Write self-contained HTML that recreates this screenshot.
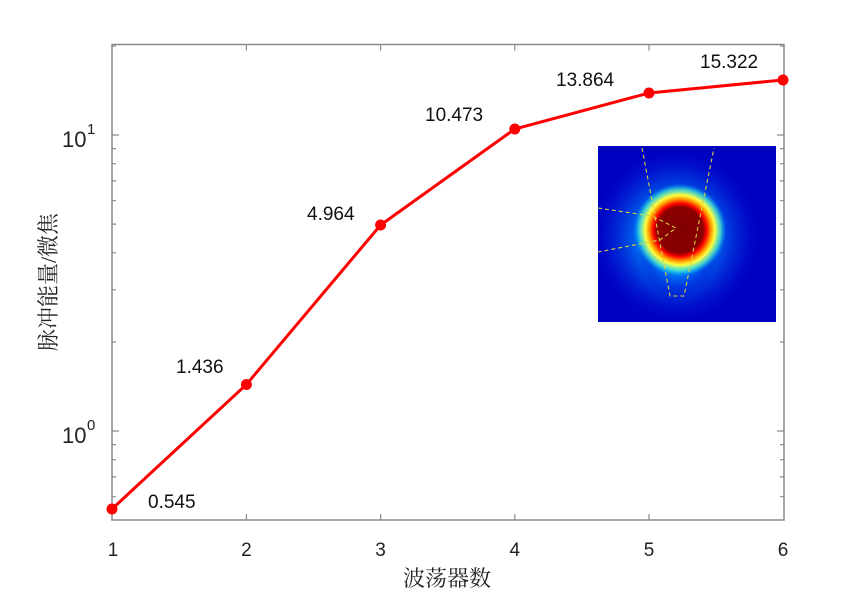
<!DOCTYPE html>
<html><head><meta charset="utf-8"><style>
html,body{margin:0;padding:0;background:#fff;}
svg{display:block;}
</style></head><body>
<svg width="866" height="595" viewBox="0 0 866 595" xmlns="http://www.w3.org/2000/svg">
<defs>
<clipPath id="cp"><rect x="598" y="146" width="178" height="176"/></clipPath>
<radialGradient id="g1" cx="0.5" cy="0.5" r="0.5">
<stop offset="0" stop-color="#20e0ff" stop-opacity="1"/>
<stop offset="0.4" stop-color="#0090ff" stop-opacity="0.85"/>
<stop offset="0.75" stop-color="#0030e0" stop-opacity="0.5"/>
<stop offset="1" stop-color="#0000c8" stop-opacity="0"/>
</radialGradient>
<radialGradient id="g2" cx="0.5" cy="0.5" r="0.5">
<stop offset="0" stop-color="#800000"/>
<stop offset="0.5" stop-color="#8a0000"/>
<stop offset="0.58" stop-color="#ff0000"/>
<stop offset="0.68" stop-color="#ffa000"/>
<stop offset="0.76" stop-color="#ffff40"/>
<stop offset="0.88" stop-color="#60ffc0" stop-opacity="0.7"/>
<stop offset="1" stop-color="#00e0ff" stop-opacity="0"/>
</radialGradient>
</defs>
<g clip-path="url(#cp)">
<rect x="598" y="146" width="178" height="176" fill="#0000c0"/>
<ellipse cx="676" cy="236" rx="88" ry="90" fill="url(#g1)"/>
<ellipse cx="678" cy="252" rx="40" ry="46" fill="url(#g1)"/>
<ellipse cx="680" cy="230" rx="46" ry="46" fill="url(#g2)"/>
<g stroke="#d8d040" stroke-width="1.1" stroke-dasharray="4,3" fill="none">
<path d="M642,148 L670,296 L684,296 L714,148"/>
<path d="M598,208 L652,216 L676,228 L660,240 L598,252"/>
</g>
</g>
<rect x="112" y="44.5" width="672" height="475.5" fill="none" stroke="#8a8a8a" stroke-width="1.5"/>
<g stroke="#8a8a8a" stroke-width="1.2">
<path d="M246.4,520v-6M380.6,520v-6M514.8,520v-6M649,520v-6M246.4,44.5v6M380.6,44.5v6M514.8,44.5v6M649,44.5v6"/>
<path d="M112,431h7M112,135h7M784,431h-7M784,135h-7"/>
<path d="M112,496.7h4M112,476.9h4M112,459.7h4M112,444.6h4M112,342h4M112,289.8h4M112,252.8h4M112,224.1h4M112,200.7h4M112,180.9h4M112,163.7h4M112,148.6h4M112,46h4
M784,496.7h-4M784,476.9h-4M784,459.7h-4M784,444.6h-4M784,342h-4M784,289.8h-4M784,252.8h-4M784,224.1h-4M784,200.7h-4M784,180.9h-4M784,163.7h-4M784,148.6h-4M784,46h-4"/>
</g>
<g font-family="Liberation Sans, Arial, sans-serif" font-size="19" fill="#222" text-anchor="middle">
<text x="113" y="556">1</text><text x="246.4" y="556">2</text><text x="380.6" y="556">3</text>
<text x="514.8" y="556">4</text><text x="649" y="556">5</text><text x="783" y="556">6</text>
</g>
<g font-family="Liberation Sans, Arial, sans-serif" fill="#222">
<text x="62" y="443" font-size="22">10</text><text x="87" y="430" font-size="15">0</text>
<text x="62" y="147" font-size="22">10</text><text x="87" y="134" font-size="15">1</text>
</g>
<g font-family="Liberation Sans, Arial, sans-serif" font-size="19" fill="#111">
<text x="148" y="508">0.545</text>
<text x="176" y="373">1.436</text>
<text x="307" y="220">4.964</text>
<text x="425" y="121">10.473</text>
<text x="556" y="86">13.864</text>
<text x="700" y="68">15.322</text>
</g>
<polyline points="112,509 246.4,384.5 380.6,225 514.8,129 649,93 783,80" fill="none" stroke="#ff0000" stroke-width="3"/>
<g fill="#ff0000">
<circle cx="112" cy="509" r="5.5"/><circle cx="246.4" cy="384.5" r="5.5"/><circle cx="380.6" cy="225" r="5.5"/>
<circle cx="514.8" cy="129" r="5.5"/><circle cx="649" cy="93" r="5.5"/><circle cx="783" cy="80" r="5.5"/>
</g>
<text x="447" y="586" text-anchor="middle" font-family="Liberation Serif, 'Noto Serif CJK SC', serif" font-size="22" fill="#222">波荡器数</text>
<text transform="translate(56,282) rotate(-90)" text-anchor="middle" font-family="Liberation Serif, 'Noto Serif CJK SC', serif" font-size="22" fill="#222">脉冲能量/微焦</text>
</svg>
</body></html>
